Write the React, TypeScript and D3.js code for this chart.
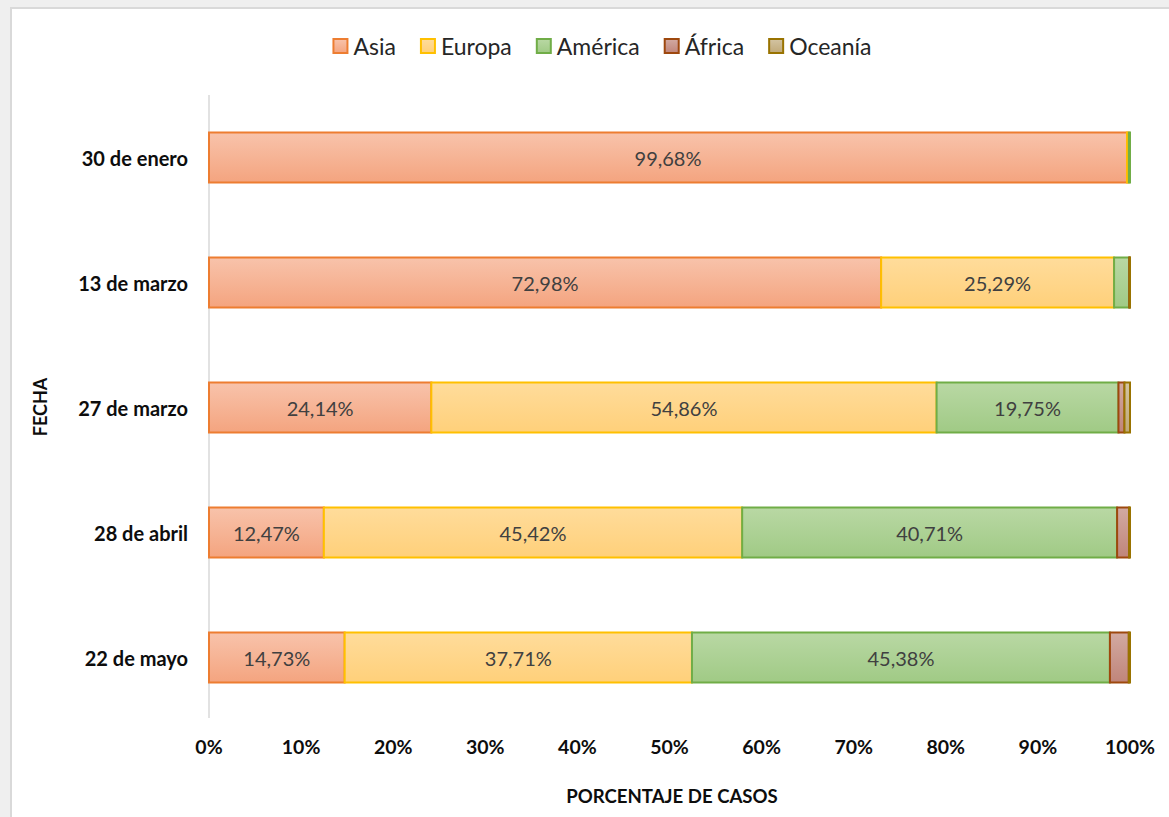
import React, { useEffect, useRef } from "react";
import * as d3 from "d3";

const fechas = ["30 de enero", "13 de marzo", "27 de marzo", "28 de abril", "22 de mayo"];
const regiones = ["Asia", "Europa", "América", "África", "Oceanía"];
const asia = [99.68, 72.98, 24.14, 12.47, 14.73];
const europa = [0.2, 25.29, 54.86, 45.42, 37.71];
const america = [0.12, 1.65, 19.75, 40.71, 45.38];
const africa = [0, 0.04, 0.65, 1.3, 2.05];
const oceania = [0, 0.04, 0.6, 0.1, 0.13];
const xTicks = [0, 10, 20, 30, 40, 50, 60, 70, 80, 90, 100];

const strokes = ["#ed7d31", "#ffc000", "#70ad47", "#9e480e", "#997300"];
const topFill = ["#f8c3ab", "#ffdc9b", "#b9d8a4", "#d2aaa2", "#d3c4a3"];
const botFill = ["#f4a47f", "#ffd07a", "#a0ca85", "#c0857a", "#c0a978"];

const W = 1169;
const H = 817;
const font = "Lato, 'Liberation Sans', sans-serif";

export default function App() {
	const ref = useRef<SVGSVGElement>(null);

	useEffect(() => {
		const svg = d3.select(ref.current);
		svg.selectAll("*").remove();

		const series = [asia, europa, america, africa, oceania];
		const rows = fechas.map((f, i) => {
			const r: any = { fecha: f };
			regiones.forEach((reg, k) => (r[reg] = series[k][i]));
			return r;
		});
		const stacked = d3.stack().keys(regiones)(rows);

		const x = d3.scaleLinear().domain([0, 100]).range([209, 1130]);
		const y = d3.scaleBand().domain(fechas).range([95, 720]).paddingInner(0.6).paddingOuter(0.3);

		const defs = svg.append("defs");
		regiones.forEach((r, k) => {
			const g = defs.append("linearGradient").attr("id", "g" + k)
				.attr("x1", 0).attr("y1", 0).attr("x2", 0).attr("y2", 1);
			g.append("stop").attr("offset", "0%").attr("stop-color", topFill[k]);
			g.append("stop").attr("offset", "100%").attr("stop-color", botFill[k]);
		});

		// background + frame
		svg.append("rect").attr("width", W).attr("height", H).attr("fill", "#efefef");
		svg.append("rect").attr("x", 11).attr("y", 8).attr("width", W).attr("height", H)
			.attr("fill", "#fff").attr("stroke", "#d9d9d9").attr("stroke-width", 2);

		// axis line
		svg.append("line").attr("x1", x(0)).attr("x2", x(0)).attr("y1", 95).attr("y2", 718)
			.attr("stroke", "#d9d9d9").attr("stroke-width", 1.5);

		// bars
		stacked.forEach((s, k) => {
			const g = svg.append("g");
			g.selectAll("rect").data(s).join("rect")
				.filter((d: any) => d[1] - d[0] > 0)
				.attr("x", (d: any) => x(d[0]))
				.attr("y", (d: any) => y(d.data.fecha)!)
				.attr("width", (d: any) => x(d[1]) - x(d[0]))
				.attr("height", y.bandwidth())
				.attr("fill", `url(#g${k})`)
				.attr("stroke", strokes[k])
				.attr("stroke-width", 2);
			g.selectAll("text").data(s.filter((d: any) => d[1] - d[0] > 5)).join("text")
				.attr("x", (d: any) => (x(d[0]) + x(d[1])) / 2)
				.attr("y", (d: any) => y(d.data.fecha)! + y.bandwidth() / 2)
				.attr("text-anchor", "middle").attr("dominant-baseline", "central")
				.attr("font-family", font).attr("font-size", 20).attr("fill", "#404040")
				.text((d: any) => d3.format(".2f")(d[1] - d[0]).replace(".", ",") + "%");
		});

		// category labels
		svg.append("g").selectAll("text").data(fechas).join("text")
			.attr("x", 188).attr("y", (d) => y(d)! + y.bandwidth() / 2)
			.attr("text-anchor", "end").attr("dominant-baseline", "central")
			.attr("font-family", font).attr("font-size", 20).attr("font-weight", "bold")
			.attr("fill", "#0d0d0d").text((d) => d);

		// x ticks
		svg.append("g").selectAll("text").data(xTicks).join("text")
			.attr("x", (d) => x(d)).attr("y", 746)
			.attr("text-anchor", "middle").attr("dominant-baseline", "central")
			.attr("font-family", font).attr("font-size", 19.5).attr("font-weight", "bold")
			.attr("fill", "#0d0d0d").text((d) => d + "%");

		// axis titles
		svg.append("text").attr("x", 672).attr("y", 796)
			.attr("text-anchor", "middle").attr("dominant-baseline", "central")
			.attr("font-family", font).attr("font-size", 18.6).attr("font-weight", "bold")
			.attr("fill", "#0d0d0d").text("PORCENTAJE DE CASOS");
		svg.append("text").attr("transform", "translate(40,407) rotate(-90)")
			.attr("text-anchor", "middle").attr("dominant-baseline", "central")
			.attr("font-family", font).attr("font-size", 18).attr("font-weight", "bold")
			.attr("fill", "#0d0d0d").text("FECHA");

		// legend
		const leg = svg.append("g");
		let cx = 0;
		regiones.forEach((r, k) => {
			const it = leg.append("g").attr("transform", `translate(${cx},0)`);
			it.append("rect").attr("x", 1).attr("y", -7).attr("width", 14).attr("height", 14)
				.attr("fill", `url(#g${k})`).attr("stroke", strokes[k]).attr("stroke-width", 2);
			const t = it.append("text").attr("x", 21).attr("y", 0).attr("dominant-baseline", "central")
				.attr("font-family", font).attr("font-size", 23).attr("fill", "#262626").text(r);
			const w = (t.node() as SVGTextElement).getComputedTextLength();
			cx += 21 + w + 24;
		});
		const total = cx - 24;
		leg.attr("transform", `translate(${602 - total / 2},46)`);
	}, []);

	return (
		<svg ref={ref} width={W} height={H}
			style={{ position: "absolute", left: 0, top: 0, display: "block" }} />
	);
}
